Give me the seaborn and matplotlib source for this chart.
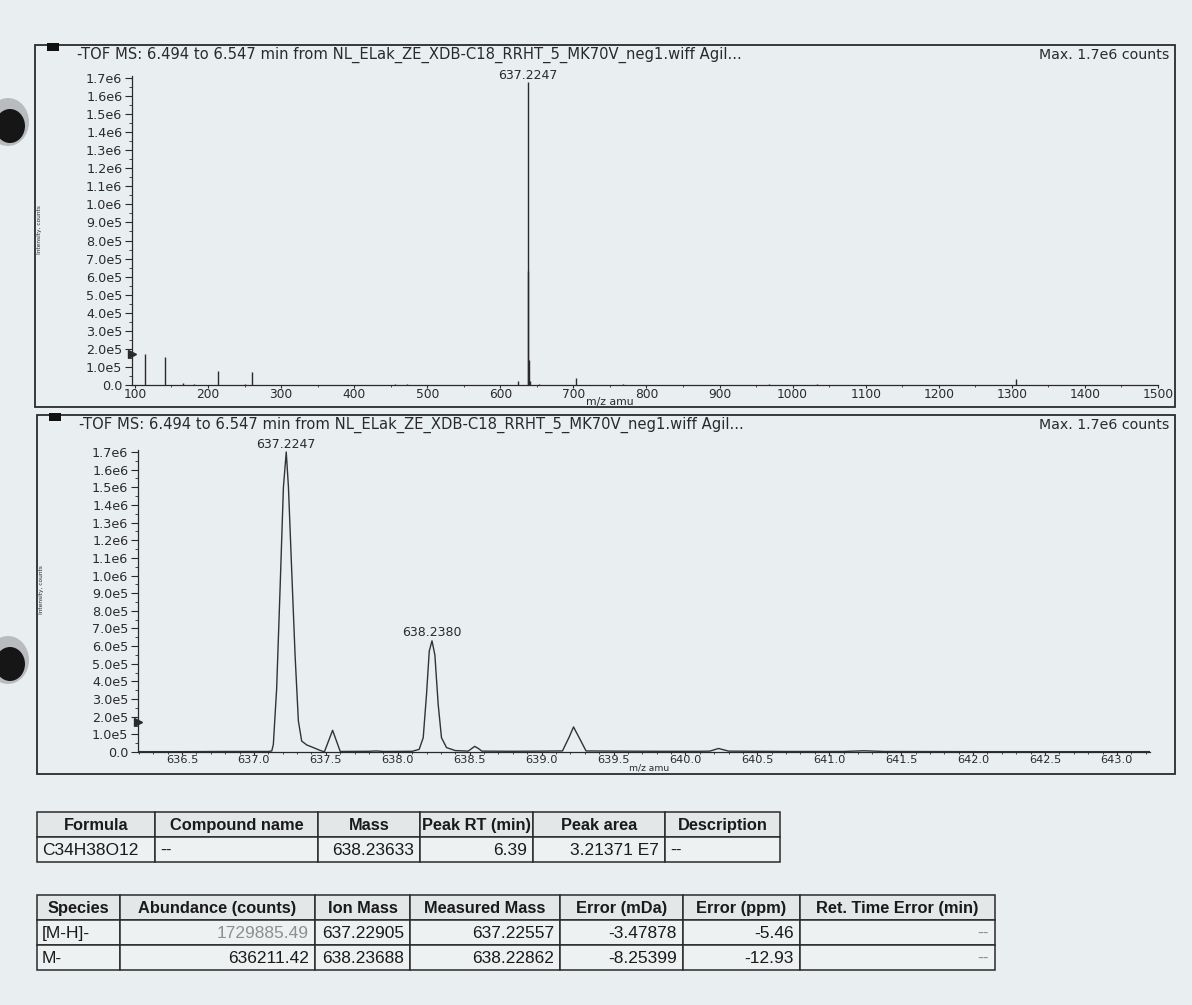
import matplotlib
matplotlib.use("Agg")
import matplotlib.pyplot as plt
import seaborn as sns
import numpy as np
import pandas as pd
from matplotlib.patches import Rectangle, Ellipse
from matplotlib.ticker import MultipleLocator, FuncFormatter

# === Values ===
run_title = "-TOF MS: 6.494 to 6.547 min from NL_ELak_ZE_XDB-C18_RRHT_5_MK70V_neg1.wiff Agil..."
max_text = "Max. 1.7e6 counts"
threshold = 1.7e5

# full range stick spectrum (m/z, counts)
stick_mz = [113.5, 140.5, 166, 181, 213.8, 250, 260, 456, 472, 624,
            637.2247, 638.238, 639.24, 640.25, 653, 703, 768, 968, 1034, 1305]
stick_int = [1.7e5, 1.56e5, 1.0e4, 4e3, 7.6e4, 5e3, 7.2e4, 4e3, 4e3, 2.4e4,
             1.68e6, 6.3e5, 1.4e5, 2e4, 5e3, 3.6e4, 4e3, 8e3, 6e3, 3.2e4]

# zoomed profile around the molecular ion
prof_mz = [636.20, 636.50, 636.80, 637.10, 637.124, 637.135, 637.158, 637.182,
           637.205, 637.2247, 637.240, 637.263, 637.286, 637.309, 637.332,
           637.367, 637.413, 637.460, 637.490, 637.547, 637.600, 637.80,
           637.85, 637.90, 638.10, 638.149, 638.177, 638.200, 638.219,
           638.238, 638.258, 638.281, 638.304, 638.339, 638.40, 638.49,
           638.515, 638.535, 638.56, 638.585, 638.80, 639.00, 639.145,
           639.192, 639.222, 639.262, 639.309, 639.50, 639.80, 640.10,
           640.17, 640.23, 640.30, 640.70, 641.10, 641.24, 641.38, 642.00,
           643.23]
prof_int = [2e3, 2e3, 3e3, 3e3, 6e3, 4.3e4, 3.6e5, 9.3e5,
            1.5e6, 1.70e6, 1.5e6, 1.02e6, 5.5e5, 1.76e5, 6.2e4,
            4.0e4, 2.5e4, 9e3, 1e3, 1.23e5, 3e3, 4e3,
            6e3, 3e3, 4e3, 1.5e4, 8.1e4, 3.27e5, 5.72e5,
            6.3e5, 5.5e5, 2.7e5, 8.1e4, 2.5e4, 8e3, 5e3,
            2.0e4, 3.2e4, 2.0e4, 5e3, 4e3, 5e3, 6e3,
            8.5e4, 1.42e5, 8.0e4, 6e3, 5e3, 4e3, 4e3,
            5e3, 2.0e4, 5e3, 3e3, 3e3, 7e3, 3e3, 2e3,
            2e3]

top_labels = ["637.2247"]
bottom_labels = ["637.2247", "638.2380"]

# tables
t1_header = ["Formula", "Compound name", "Mass", "Peak RT (min)", "Peak area", "Description"]
t1_rows = [["C34H38O12", "--", "638.23633", "6.39", "3.21371 E7", "--"]]
t2_header = ["Species", "Abundance (counts)", "Ion Mass", "Measured Mass",
             "Error (mDa)", "Error (ppm)", "Ret. Time Error (min)"]
t2_rows = [["[M-H]-", "1729885.49", "637.22905", "637.22557", "-3.47878", "-5.46", "--"],
           ["M-", "636211.42", "638.23688", "638.22862", "-8.25399", "-12.93", "--"]]

# === Style ===
paper = "#e9eef0"
ink = "#2a2a2a"
sns.set_style("ticks")
plt.rcParams["font.family"] = ["DejaVu Sans"]

W, H = 1192, 1005
fig = plt.figure(figsize=(W / 100, H / 100), dpi=100, facecolor=paper)

# overlay in pixel coordinates for boxes, titles and tables
ov = fig.add_axes([0, 0, 1, 1], zorder=0)
ov.set_xlim(0, W)
ov.set_ylim(H, 0)
ov.axis("off")

YTOP = 1.76e6
YMAX_TICK = 1.7e6


def frac(x0, y_top, x1, y_bot):
    return [x0 / W, 1 - y_bot / H, (x1 - x0) / W, (y_bot - y_top) / H]


def sci_fmt(v, pos):
    if v <= 0:
        return "0.0"
    e = int(np.floor(np.log10(v) + 1e-9))
    return f"{v / 10 ** e:.1f}e{e}"


def style_axis(ax, xlab_size):
    ax.set_facecolor("none")
    sns.despine(ax=ax)
    for s in ["left", "bottom"]:
        ax.spines[s].set_color(ink)
        ax.spines[s].set_linewidth(0.9)
    ax.spines["left"].set_bounds(0, YMAX_TICK + 1e4)
    ax.set_yticks(np.arange(0, YMAX_TICK + 1, 1e5))
    ax.set_yticks(np.arange(5e4, YMAX_TICK, 1e5), minor=True)
    ax.yaxis.set_major_formatter(FuncFormatter(sci_fmt))
    ax.set_ylim(0, YTOP)
    ax.tick_params(which="major", length=5, width=0.8, color=ink,
                   labelsize=9.2, labelcolor=ink, pad=2)
    ax.tick_params(which="minor", length=2.5, width=0.6, color=ink)
    ax.tick_params(axis="x", which="major", length=2.5, pad=0, labelsize=xlab_size)
    ax.tick_params(axis="x", which="minor", length=1.6)
    ax.set_xlabel("")
    ax.set_ylabel("")
    # threshold marker on the intensity axis
    ax.plot([ax.get_xlim()[0]], [threshold], marker=">", ms=6, color=ink,
            clip_on=False, zorder=5)


def panel_frame(y_top, y_bot, x_left, ylab_y, xlab_x, xlab_y, xlab_size):
    ov.add_patch(Rectangle((x_left, y_top), 1175 - x_left, y_bot - y_top,
                           fill=False, ec=ink, lw=1.3))
    ov.add_patch(Rectangle((x_left + 12, y_top - 2), 12, 8, fc="#111", ec="none"))
    ov.text(x_left + 42, y_top + 10, run_title, fontsize=10.6, color=ink, va="center")
    ov.text(1169, y_top + 10, max_text, fontsize=10.2, color=ink, va="center", ha="right")
    ov.text(x_left + 4, ylab_y, "Intensity, counts", fontsize=4.2, rotation=90,
            va="center", ha="center", color=ink)
    ov.text(xlab_x, xlab_y, "m/z amu", fontsize=xlab_size, color=ink,
            ha="center", va="center")


panel_frame(45, 407, 35, 230, 610, 402, 7.8)
panel_frame(415, 774, 37, 590, 649.5, 768, 6.6)

# === Top: full range stick spectrum ===
# 0 at y=385 px, 1.7e6 at y=78 px
top_px = 385 - (385 - 78) * YTOP / 1.7e6
ax1 = fig.add_axes(frac(132, top_px, 1158, 385), zorder=2)
ax1.set_xlim(96, 1500)
ax1.vlines(stick_mz, 0, stick_int, color=ink, lw=1.0)
style_axis(ax1, 8.8)
ax1.xaxis.set_major_locator(MultipleLocator(100))
ax1.xaxis.set_minor_locator(MultipleLocator(50))
for lab in top_labels:
    i = int(np.argmin(np.abs(np.array(stick_mz) - float(lab))))
    ax1.annotate(lab, (stick_mz[i], stick_int[i]), xytext=(0, 0),
                 textcoords="offset points", ha="center", va="bottom",
                 fontsize=9, color=ink, annotation_clip=False)

# === Bottom: profile around the molecular ion ===
bot_px = 752 - (752 - 452) * YTOP / 1.7e6
ax2 = fig.add_axes(frac(138, bot_px, 1150, 752), zorder=2)
ax2.set_xlim(636.194, 643.23)
df = pd.DataFrame({"mz": prof_mz, "counts": prof_int})
sns.lineplot(data=df, x="mz", y="counts", ax=ax2, color="#333333", lw=1.0,
             estimator=None, sort=True)
style_axis(ax2, 8.2)
ax2.xaxis.set_major_locator(MultipleLocator(0.5))
ax2.xaxis.set_minor_locator(MultipleLocator(0.1))
ax2.xaxis.set_major_formatter(FuncFormatter(lambda v, p: f"{v:.1f}"))
for lab in bottom_labels:
    i = int(np.argmin(np.abs(np.array(prof_mz) - float(lab))))
    ax2.annotate(lab, (prof_mz[i], prof_int[i]), xytext=(0, 1),
                 textcoords="offset points", ha="center", va="bottom",
                 fontsize=9, color=ink, annotation_clip=False)

# === Tables ===
tab_font = ["Liberation Sans"]


def draw_table(x0, y0, col_w, row_h, header, rows, right_cols, grey_cells):
    xs = np.concatenate([[x0], x0 + np.cumsum(col_w)])
    y = y0
    for c, txt in enumerate(header):
        ov.add_patch(Rectangle((xs[c], y), col_w[c], row_h, fc="#e3e7e8", ec=ink, lw=1.1))
        ov.text(xs[c] + col_w[c] / 2, y + row_h / 2 + 1, txt, ha="center", va="center",
                fontsize=11.8, fontweight="bold", family=tab_font, color="#1a1a1a")
    for r, row in enumerate(rows):
        y = y0 + row_h * (r + 1)
        for c, txt in enumerate(row):
            ov.add_patch(Rectangle((xs[c], y), col_w[c], row_h, fc="#eef1f1", ec=ink, lw=1.1))
            col = "#8a8f91" if (r, c) in grey_cells else "#1a1a1a"
            if c in right_cols:
                ov.text(xs[c + 1] - 6, y + row_h / 2 + 1, txt, ha="right", va="center",
                        fontsize=12.5, family=tab_font, color=col)
            else:
                ov.text(xs[c] + 5, y + row_h / 2 + 1, txt, ha="left", va="center",
                        fontsize=12.5, family=tab_font, color=col)


draw_table(37, 812, [118, 163, 102, 113, 132, 115], 25, t1_header, t1_rows,
           right_cols=[2, 3, 4], grey_cells=set())
draw_table(37, 895, [83, 195, 95, 150, 123, 117, 195], 25, t2_header, t2_rows,
           right_cols=[1, 2, 3, 4, 5, 6], grey_cells={(0, 1), (0, 6), (1, 6)})

# hole punch shadows on the photographed page
for cy in (122, 660):
    ov.add_patch(Ellipse((8, cy), 42, 48, fc="#9a9c9d", ec="none", alpha=0.6))
    ov.add_patch(Ellipse((10, cy + 4), 30, 34, fc="#161616", ec="none"))

fig.savefig("out.png", dpi=100, facecolor=paper)
